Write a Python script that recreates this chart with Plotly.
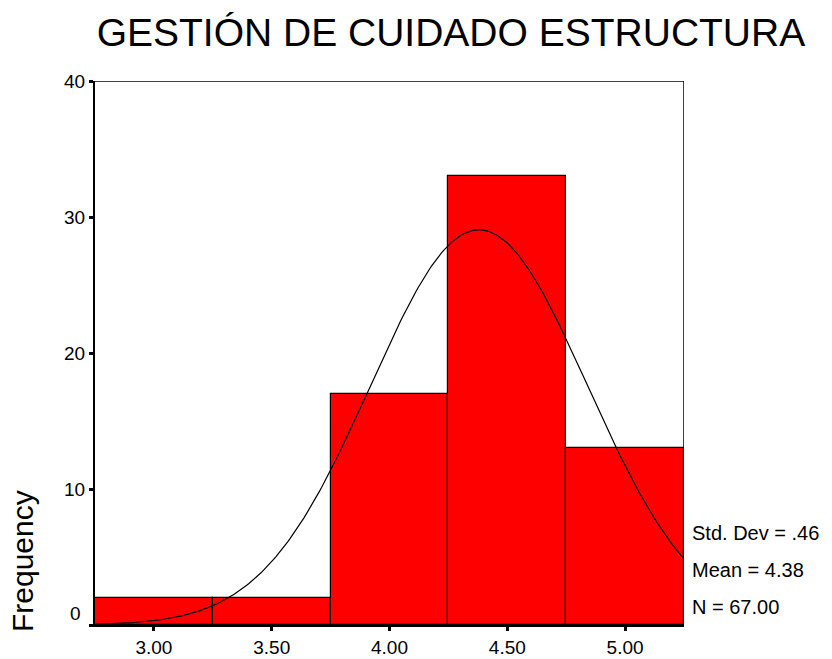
import numpy as np
import plotly.graph_objects as go

# Data
bin_centers = [3.00, 3.50, 4.00, 4.50, 5.00]
frequencies = [2, 2, 17, 33, 13]
bin_width = 0.5
std_dev = 0.46
mean = 4.38
n_total = 67
x_ticks = [3.00, 3.50, 4.00, 4.50, 5.00]
x_tick_labels = ["3.00", "3.50", "4.00", "4.50", "5.00"]
y_ticks = [0, 10, 20, 30, 40]
y_tick_labels = ["", "10", "20", "30", "40"]  # "0" drawn separately (raised slightly as in the original)

# Fitted normal curve (from the displayed statistics)
xc = np.linspace(2.75, 5.25, 300)
yc = n_total * bin_width / (std_dev * np.sqrt(2 * np.pi)) * np.exp(-0.5 * ((xc - mean) / std_dev) ** 2)

fig = go.Figure()
fig.add_trace(go.Bar(
    x=bin_centers, y=frequencies, width=bin_width,
    marker=dict(color="#FF0000", line=dict(color="black", width=1.2)),
    showlegend=False,
))
fig.add_trace(go.Scatter(
    x=xc, y=yc, mode="lines",
    line=dict(color="black", width=1.2),
    showlegend=False,
))

font = "Liberation Sans, Arial, sans-serif"
fs_tick = 19
fig.update_layout(
    width=832, height=659,
    margin=dict(l=95, r=148, t=81, b=34),
    paper_bgcolor="white", plot_bgcolor="white",
    font=dict(family=font, color="black"),
    bargap=0,
    title=dict(text="GESTIÓN DE CUIDADO ESTRUCTURA", x=0.542, xanchor="center",
               y=0.951, yanchor="middle", font=dict(size=39, family=font, color="black")),
    xaxis=dict(range=[2.75, 5.25], tickvals=x_ticks, ticktext=x_tick_labels,
               showgrid=False, zeroline=False, showline=True, linecolor="black", linewidth=2,
               ticks="outside", ticklen=4, tickwidth=3, tickcolor="black",
               automargin=False,
               tickfont=dict(size=fs_tick, family=font, color="black")),
    yaxis=dict(range=[0, 40], tickvals=y_ticks, ticktext=y_tick_labels,
               showgrid=False, zeroline=False, showline=True, linecolor="black", linewidth=2,
               ticks="outside", ticklen=4, tickwidth=3, tickcolor="black",
               automargin=False,
               tickfont=dict(size=fs_tick, family=font, color="black")),
    shapes=[
        dict(type="line", xref="x", yref="y", x0=2.75, x1=5.25, y0=40, y1=40,
             line=dict(color="black", width=1.5)),
        dict(type="line", xref="x", yref="y", x0=5.25, x1=5.25, y0=0, y1=40,
             line=dict(color="black", width=1.5)),
    ],
    annotations=[
        dict(text="0", xref="paper", yref="paper", x=(83 - 95) / 589, y=(625 - 613) / 544,
             showarrow=False, xanchor="right", yanchor="middle",
             font=dict(size=fs_tick, family=font, color="black")),
        dict(text="Frequency", xref="paper", yref="paper", x=(22 - 95) / 589, y=(625 - 561) / 544,
             textangle=-90, showarrow=False, xanchor="center", yanchor="middle",
             font=dict(size=30, family=font, color="black")),
        dict(text="Std. Dev = .46", xref="paper", yref="paper", x=(690 - 95) / 589, y=(625 - 533) / 544,
             showarrow=False, xanchor="left", yanchor="middle",
             font=dict(size=20, family=font, color="black")),
        dict(text="Mean = 4.38", xref="paper", yref="paper", x=(690 - 95) / 589, y=(625 - 570) / 544,
             showarrow=False, xanchor="left", yanchor="middle",
             font=dict(size=20, family=font, color="black")),
        dict(text="N = 67.00", xref="paper", yref="paper", x=(690 - 95) / 589, y=(625 - 607) / 544,
             showarrow=False, xanchor="left", yanchor="middle",
             font=dict(size=20, family=font, color="black")),
    ],
)

fig.write_html("out.html")
